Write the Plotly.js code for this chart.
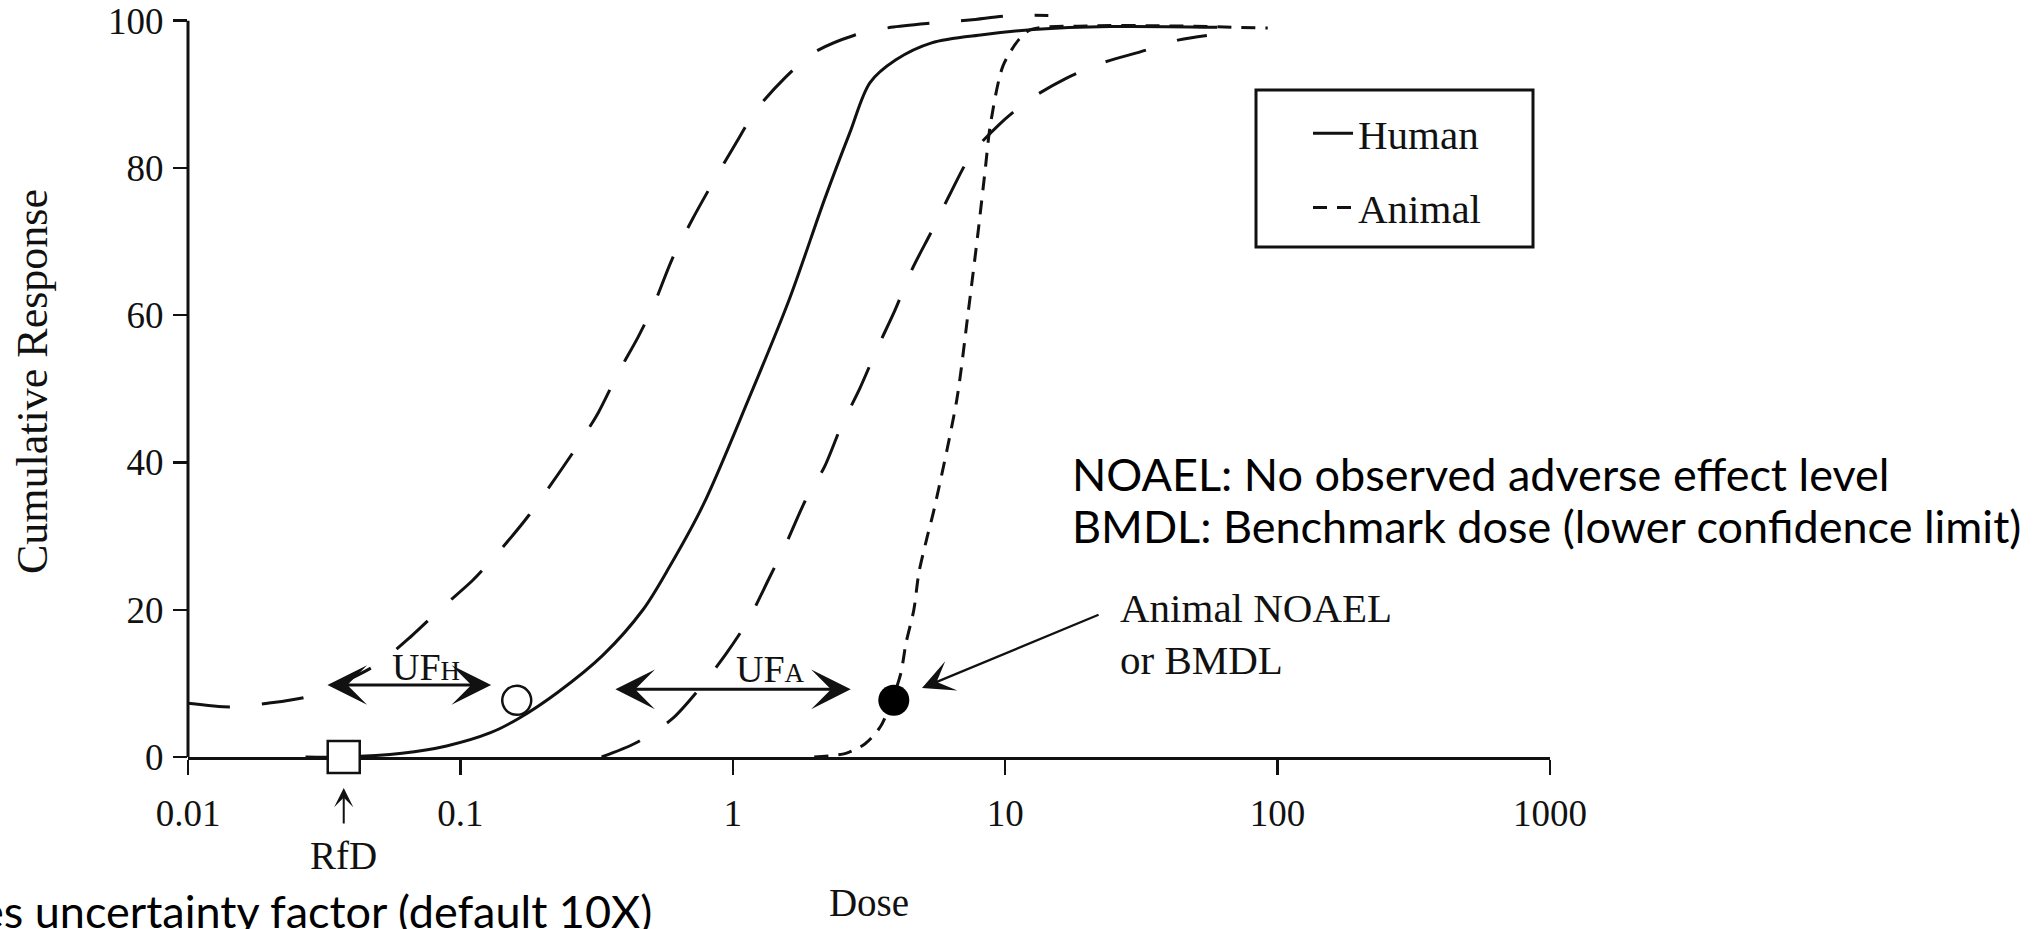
<!DOCTYPE html>
<html><head><meta charset="utf-8">
<script src="https://cdn.plot.ly/plotly-3.0.1.min.js"></script>
<style>html,body{margin:0;padding:0;background:#fff;overflow:hidden}#chart{width:2041px;height:929px}</style>
</head><body><div id="chart"></div>
<script>
// ---- data ----
// Human dose-response (solid)
const humanDose = [0.027,0.037,0.061,0.089,0.129,0.163,0.228,0.333,0.468,0.587,0.78,1.14,1.61,2.17,2.69,3.19,3.97,5.37,8.26,12.7,24.3,60];
const humanResp = [0,0,0.5,1.5,3.3,5.2,8.8,13.8,20,25.9,34.3,48.5,62.1,75.7,84.8,91.6,94.7,97.0,98.1,98.8,99.2,99.1];
// Left long-dashed band
const leftBandDose = [0.01,0.0143,0.0196,0.0275,0.0373,0.050,0.066,0.085,0.111,0.14,0.179,0.265,0.32,0.38,0.45,0.51,0.60,0.71,0.85,1.02,1.22,1.55,1.99,2.78,3.8,5.4,7.4,10.5,14.4];
const leftBandResp = [7.3,6.8,7.3,8.2,10.2,12.7,16.4,20.2,24.0,28.1,32.9,41.9,46.7,52.2,57.1,61.2,67.7,73,78.2,83.2,87.9,92.2,95.7,98.0,99.1,99.7,100.1,100.7,100.7];
// Right long-dashed band
const rightBandDose = [0.33,0.44,0.60,0.74,0.94,1.14,1.34,1.57,1.85,2.17,2.5,2.93,3.39,3.94,4.56,5.37,6.3,7.5,9.5,12.4,16.6,22.8,31.5,43.5,55];
const rightBandResp = [0,1.9,5.2,8.9,13.9,18.6,23.8,29,34.9,39.4,44.9,50.1,55.5,60.7,66.3,71.4,76.6,81.8,85.9,89.4,92.1,94.3,95.8,97.4,98.0];
// Animal dose-response (short dash)
const animalDose = [1.99,2.6,3.06,3.48,3.84,4.14,4.32,4.62,4.82,5.14,5.48,6.64,7.28,7.94,8.47,8.8,9.8,11.2,12.4,20,40,92];
const animalResp = [0,0.5,1.8,4.1,7.7,11.4,15.4,20,25,29.5,33.6,48.5,59.8,71.1,80.2,85.6,93.8,97.4,98.8,99.3,99.3,99.0];
// Points
const rfdDose = [0.0373], rfdResp = [0];
const humanPtDose = [0.161], humanPtResp = [7.7];
const animalPtDose = [3.90], animalPtResp = [7.7];
// Ticks
const xTickVals = [0.01,0.1,1,10,100,1000];
const xTickText = ['0.01','0.1','1','10','100','1000'];
const yTickVals = [0,20,40,60,80,100];
const yTickText = ['0','20','40','60','80','100'];
// Uncertainty factor arrows (dose ranges, response level)
const ufHRange = [0.0321,0.1297], ufHLevel = 9.78;
const ufARange = [0.366,2.71], ufALevel = 9.19;

// ---- layout geometry ----
const W=2041,H=929,L=188,R=491,T=6,B=172;
const PW=W-L-R, PH=H-T-B;
const xp = px => (px-L)/PW;
const yp = py => (H-B-py)/PH;
const lg = Math.log10;

const serif = 'Liberation Serif, Times New Roman, serif';
const sans = 'Lato, Carlito, Open Sans, sans-serif';
const ink = '#111';

const traces = [
  {x:leftBandDose,y:leftBandResp,mode:'lines',showlegend:false,hoverinfo:'skip',
   line:{color:ink,width:3,dash:'42px,32px',shape:'spline',smoothing:0.8}},
  {x:rightBandDose,y:rightBandResp,mode:'lines',showlegend:false,hoverinfo:'skip',
   line:{color:ink,width:3,dash:'42px,32px',shape:'spline',smoothing:0.8}},
  {x:humanDose,y:humanResp,mode:'lines',name:'Human',legendgroup:'h',
   line:{color:ink,width:3,shape:'spline',smoothing:0.9}},
  {x:animalDose,y:animalResp,mode:'lines',name:'Animal',legendgroup:'a',
   line:{color:ink,width:3,dash:'14px,10px',shape:'spline',smoothing:0.8}},
  {x:rfdDose,y:rfdResp,mode:'markers',showlegend:false,cliponaxis:false,
   marker:{symbol:'square',size:32,color:'#fff',line:{color:ink,width:2.5}}},
  {x:humanPtDose,y:humanPtResp,mode:'markers',showlegend:false,cliponaxis:false,
   marker:{symbol:'circle',size:29,color:'#fff',line:{color:ink,width:2.5}}},
  {x:animalPtDose,y:animalPtResp,mode:'markers',showlegend:false,cliponaxis:false,
   marker:{symbol:'circle',size:31,color:'#000',line:{color:'#000',width:0}}}
];

const arrowBase = {text:'',showarrow:true,axref:'x',ayref:'y',xref:'x',yref:'y',
  arrowcolor:ink,standoff:0,startstandoff:0};

const annotations = [
  Object.assign({},arrowBase,{x:lg(ufHRange[1]),y:ufHLevel,ax:lg(ufHRange[0]),ay:ufHLevel,
    arrowside:'end+start',arrowhead:3,startarrowhead:3,arrowsize:2.2,startarrowsize:2.2,arrowwidth:3}),
  Object.assign({},arrowBase,{x:lg(ufARange[1]),y:ufALevel,ax:lg(ufARange[0]),ay:ufALevel,
    arrowside:'end+start',arrowhead:3,startarrowhead:3,arrowsize:2.2,startarrowsize:2.2,arrowwidth:3}),
  Object.assign({},arrowBase,{x:lg(4.95),y:9.37,ax:lg(22.3),ay:19.4,
    arrowhead:3,arrowsize:2.4,arrowwidth:2.2}),
  {text:'',showarrow:true,xref:'x',yref:'paper',x:lg(rfdDose[0]),y:yp(788),ax:0,ay:37,
    arrowhead:3,arrowsize:1.6,arrowwidth:2,arrowcolor:ink,standoff:0},
  {text:'UF<span style="font-size:27px">H</span>',showarrow:false,xref:'x',yref:'y',
    x:lg(0.0748),y:12.2,xanchor:'center',yanchor:'middle',font:{family:serif,size:38,color:ink}},
  {text:'UF<span style="font-size:27px">A</span>',showarrow:false,xref:'x',yref:'y',
    x:lg(1.38),y:12.0,xanchor:'center',yanchor:'middle',font:{family:serif,size:38,color:ink}},
  {text:'Animal NOAEL',showarrow:false,xref:'x',yref:'y',x:lg(26),y:20.2,
    xanchor:'left',yanchor:'middle',font:{family:serif,size:41,color:ink}},
  {text:'or BMDL',showarrow:false,xref:'x',yref:'y',x:lg(26),y:13.2,
    xanchor:'left',yanchor:'middle',font:{family:serif,size:41,color:ink}},
  {text:'RfD',showarrow:false,xref:'x',yref:'paper',x:lg(rfdDose[0]),y:yp(855),
    xanchor:'center',yanchor:'middle',font:{family:serif,size:39,color:ink}},
  {text:'NOAEL: No observed adverse effect level',showarrow:false,xref:'paper',yref:'paper',
    x:xp(1070),y:yp(474),xanchor:'left',yanchor:'middle',font:{family:sans,size:45,color:'#000'}},
  {text:'BMDL: Benchmark dose (lower confidence limit)',showarrow:false,xref:'paper',yref:'paper',
    x:xp(1070),y:yp(526),xanchor:'left',yanchor:'middle',font:{family:sans,size:45,color:'#000'}},
  {text:'es uncertainty factor (default 10X)',showarrow:false,xref:'paper',yref:'paper',
    x:xp(654),y:yp(911),xanchor:'right',yanchor:'middle',font:{family:sans,size:45,color:'#000'}}
];

const shapes = [
  {type:'line',xref:'paper',yref:'y',x0:0,x1:0,y0:0,y1:100,line:{color:ink,width:3}},
  {type:'rect',xref:'paper',yref:'paper',x0:xp(1256),x1:xp(1533),y0:yp(247),y1:yp(90),
   line:{color:ink,width:3},fillcolor:'rgba(0,0,0,0)'}
];

const layout = {
  width:W,height:H,margin:{l:L,r:R,t:T,b:B,pad:0},
  paper_bgcolor:'#fff',plot_bgcolor:'#fff',
  font:{family:serif,color:ink},
  showlegend:true,
  legend:{x:xp(1308),y:yp(100),xanchor:'left',yanchor:'top',bgcolor:'rgba(0,0,0,0)',
    borderwidth:0,font:{family:serif,size:41,color:ink},traceorder:'grouped',tracegroupgap:18,
    itemwidth:40},
  xaxis:{type:'log',range:[-2,3],tickvals:xTickVals,ticktext:xTickText,
    ticks:'outside',ticklen:15,tickwidth:2.5,tickcolor:ink,
    showline:true,linewidth:3,linecolor:ink,showgrid:false,zeroline:false,
    tickfont:{family:serif,size:37,color:ink},ticklabelstandoff:7,
    layer:'below traces',automargin:false,
    title:{text:'Dose',font:{family:serif,size:39,color:ink},standoff:56}},
  yaxis:{range:[0,102],tickvals:yTickVals,ticktext:yTickText,
    ticks:'outside',ticklen:14,tickwidth:2.5,tickcolor:ink,
    showline:false,showgrid:false,zeroline:false,
    tickfont:{family:serif,size:37,color:ink},ticklabelstandoff:2,
    layer:'below traces',automargin:false,
    title:{text:'Cumulative Response',font:{family:serif,size:44,color:ink},standoff:46}},
  annotations:annotations,
  shapes:shapes
};

Plotly.newPlot('chart',traces,layout,{displayModeBar:false,staticPlot:true});
</script>
</body></html>
